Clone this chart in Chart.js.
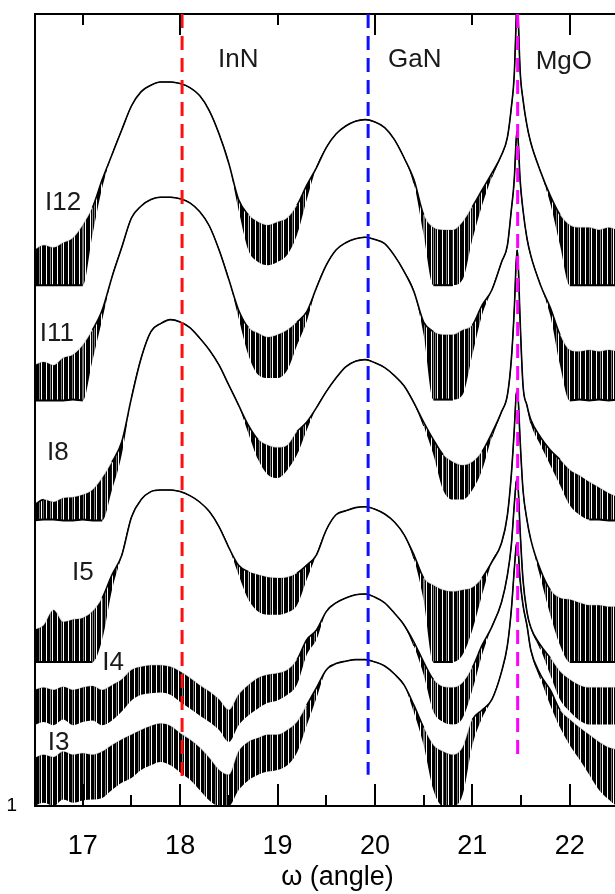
<!DOCTYPE html>
<html>
<head>
<meta charset="utf-8">
<script src="https://cdn.jsdelivr.net/npm/chart.js@4.4.0/dist/chart.umd.min.js"></script>
<style>
html,body{margin:0;padding:0;background:#fff;width:615px;height:894px;overflow:hidden}
canvas{display:block}
</style>
</head>
<body>
<canvas id="c" width="640" height="894"></canvas>
<script>
// ---- data (y values are log10 of intensity; noise = depth of noise band below trace, decades) ----
const angle = [16.5,16.6,16.7,16.8,16.9,17.0,17.1,17.2,17.3,17.4,17.5,17.6,17.7,17.8,17.9,18.0,18.1,18.2,18.3,18.4,18.5,18.6,18.7,18.8,18.9,19.0,19.1,19.2,19.3,19.4,19.5,19.6,19.7,19.8,19.9,20.0,20.1,20.2,20.3,20.4,20.5,20.6,20.7,20.8,20.9,21.0,21.1,21.2,21.3,21.36,21.40,21.43,21.45,21.46,21.47,21.49,21.52,21.56,21.6,21.7,21.8,21.9,22.0,22.1,22.2,22.3,22.4,22.5,22.6,22.7];

const logI12 = [6.95,7.01,6.98,7.04,7.10,7.26,7.48,7.83,8.14,8.45,8.75,8.93,9.01,9.05,9.05,9.03,8.98,8.88,8.69,8.40,8.03,7.58,7.39,7.30,7.26,7.30,7.35,7.51,7.76,7.98,8.23,8.40,8.50,8.56,8.58,8.55,8.48,8.33,8.10,7.83,7.39,7.23,7.20,7.20,7.30,7.49,7.70,7.91,8.14,8.36,8.73,9.14,9.83,10.2,9.89,9.20,8.83,8.51,8.29,7.93,7.63,7.39,7.26,7.23,7.23,7.20,7.23,7.20,7.20,7.20];
const noiseI12 = [0.44,0.50,0.47,0.53,0.59,0.75,0.34,0.10,0,0,0,0,0,0,0,0,0,0,0,0,0,0.13,0.44,0.50,0.50,0.50,0.46,0.37,0.18,0,0,0,0,0,0,0,0,0,0,0.05,0.25,0.72,0.69,0.69,0.72,0.41,0.19,0.05,0,0,0,0,0,0,0,0,0,0,0,0,0.10,0.38,0.75,0.72,0.72,0.69,0.72,0.69,0.69,0.69];

const logI11 = [5.51,5.55,5.51,5.60,5.64,5.76,5.95,6.20,6.61,6.98,7.35,7.50,7.58,7.61,7.61,7.59,7.54,7.43,7.25,6.95,6.58,6.20,5.98,5.91,5.86,5.89,5.95,6.05,6.18,6.48,6.76,6.95,7.04,7.09,7.11,7.08,7.03,6.88,6.68,6.43,6.05,5.93,5.89,5.89,5.95,6.01,6.26,6.45,6.80,7.01,7.45,7.83,8.33,8.44,8.33,7.83,7.45,7.10,6.88,6.51,6.23,5.89,5.70,5.68,5.70,5.68,5.70,5.68,5.70,5.68];
const noiseI11 = [0.44,0.48,0.44,0.53,0.56,0.69,0.38,0.12,0,0,0,0,0,0,0,0,0,0,0,0,0,0.10,0.34,0.52,0.51,0.54,0.50,0.29,0.12,0,0,0,0,0,0,0,0,0,0,0,0.16,0.85,0.81,0.81,0.81,0.37,0.12,0,0,0,0,0,0,0,0,0,0,0,0,0,0.10,0.38,0.63,0.60,0.63,0.60,0.63,0.60,0.63,0.60];

const logI8 = [3.76,3.83,3.80,3.85,3.86,3.89,3.95,4.10,4.30,4.55,5.10,5.60,5.93,6.03,6.08,6.05,5.98,5.85,5.70,5.51,5.26,5.01,4.76,4.58,4.51,4.48,4.51,4.68,4.80,4.98,5.18,5.35,5.49,5.56,5.58,5.54,5.48,5.38,5.25,5.04,4.80,4.58,4.39,4.30,4.26,4.30,4.43,4.66,4.93,5.14,5.58,6.20,6.80,6.95,6.80,6.08,5.26,5.01,4.83,4.61,4.45,4.33,4.20,4.13,4.05,3.98,3.91,3.86,3.83,3.83];
const noiseI8 = [0.19,0.25,0.22,0.28,0.29,0.31,0.38,0.53,0.35,0.16,0,0,0,0,0,0,0,0,0,0,0,0,0.10,0.25,0.37,0.38,0.31,0.29,0.10,0,0,0,0,0,0,0,0,0,0,0,0.05,0.19,0.44,0.47,0.43,0.35,0.23,0.05,0,0,0,0,0,0,0,0,0,0,0.05,0.10,0.19,0.32,0.44,0.49,0.47,0.40,0.34,0.29,0.25,0.25];

const logI5 = [2.20,2.26,2.45,2.30,2.33,2.35,2.43,2.60,2.89,3.13,3.61,3.83,3.93,3.95,3.95,3.93,3.88,3.80,3.68,3.49,3.23,3.01,2.93,2.89,2.86,2.85,2.86,2.91,3.01,3.14,3.45,3.64,3.69,3.73,3.74,3.71,3.65,3.55,3.39,3.14,2.85,2.76,2.70,2.68,2.70,2.73,2.85,3.05,3.29,3.64,4.14,4.70,5.14,5.18,5.10,4.58,3.95,3.58,3.33,2.95,2.70,2.60,2.58,2.54,2.51,2.51,2.49,2.49,2.48,2.48];
const noiseI5 = [0.40,0.46,0.65,0.50,0.53,0.55,0.63,0.52,0.19,0,0,0,0,0,0,0,0,0,0,0,0,0.12,0.35,0.46,0.47,0.46,0.44,0.40,0.18,0,0,0,0,0,0,0,0,0,0,0.05,0.28,0.96,0.90,0.88,0.81,0.53,0.21,0,0,0,0,0,0,0,0,0,0,0,0,0.10,0.31,0.59,0.78,0.74,0.71,0.71,0.69,0.69,0.68,0.68];

const logI4 = [1.45,1.48,1.45,1.49,1.45,1.48,1.50,1.45,1.51,1.58,1.70,1.74,1.76,1.76,1.74,1.68,1.60,1.51,1.43,1.33,1.20,1.39,1.51,1.60,1.64,1.66,1.70,1.83,2.08,2.20,2.43,2.54,2.60,2.64,2.65,2.61,2.54,2.41,2.26,2.05,1.80,1.58,1.49,1.48,1.54,1.73,2.01,2.24,2.55,2.89,3.26,3.76,4.05,4.08,3.98,3.45,2.83,2.43,2.23,2.01,1.85,1.68,1.58,1.51,1.48,1.48,1.48,1.48,1.48,1.48];
const noiseI4 = [0.44,0.43,0.44,0.41,0.44,0.43,0.43,0.44,0.44,0.40,0.38,0.35,0.35,0.34,0.35,0.38,0.38,0.38,0.38,0.38,0.40,0.38,0.38,0.38,0.35,0.34,0.31,0.31,0.19,0.12,0,0,0,0,0,0,0,0,0,0.05,0.16,0.40,0.44,0.46,0.44,0.28,0.12,0,0,0,0,0,0,0,0,0,0,0,0,0.05,0.21,0.35,0.40,0.44,0.46,0.46,0.46,0.46,0.46,0.46];

const logI3 = [0.60,0.64,0.61,0.68,0.64,0.66,0.64,0.68,0.76,0.83,0.89,0.95,1.00,1.03,1.00,0.91,0.83,0.73,0.60,0.45,0.39,0.68,0.80,0.85,0.89,0.89,0.95,1.05,1.26,1.48,1.70,1.78,1.81,1.83,1.83,1.80,1.75,1.65,1.51,1.26,0.98,0.76,0.68,0.64,0.73,1.08,1.20,1.33,1.68,2.01,2.45,2.95,3.25,3.29,3.20,2.83,2.51,2.26,1.95,1.64,1.45,1.20,1.08,0.98,0.89,0.80,0.73,0.70,0.68,0.68];
const noiseI3 = [0.60,0.60,0.61,0.60,0.60,0.59,0.56,0.58,0.56,0.54,0.54,0.50,0.49,0.48,0.49,0.49,0.50,0.53,0.53,0.45,0.39,0.48,0.48,0.46,0.46,0.44,0.44,0.38,0.25,0.13,0,0,0,0,0,0,0,0,0,0.09,0.22,0.56,0.68,0.64,0.59,0.32,0.10,0,0,0,0,0,0,0,0,0,0,0,0,0.05,0.19,0.22,0.32,0.40,0.50,0.60,0.65,0.70,0.68,0.68];

// detector floor of each scan (log10), null where the scan has no flat floor
const floorLog = [6.51, 5.075, 3.575, 1.80, null, 0];

const sampleNames = ['I12','I11','I8','I5','I4','I3'];

// reference peak positions (InN, GaN, MgO)
const peakNames = ['InN','GaN','MgO'];
const peakAngles = [18.02, 19.93, 21.465];
const peakLineBottomLog = [0.33, 0.39, 0.58];

// axis ticks
const tickLabels = [17,18,19,20,21,22];
const minorTicks = [17.5,18.5,19.5,20.5,21.5,22.5];

// ---- presentation ----
const X_MIN = 16.51, X_MAX = 22.721, Y_MAX_LOG = 9.9;
const FONT = '"Liberation Sans", Arial, sans-serif';
const peakColors = ['#ff1010','#1010ff','#ff00ff'];
// label anchors (data coordinates: angle, log10 intensity)
const sampleLabelAt = [[16.613,7.54],[16.56,5.90],[16.633,4.41],[16.89,2.91],[17.20,1.79],[16.64,0.79]];
const peakLabelAt = [[18.389,9.33],[20.134,9.33],[21.65,9.30]];

const series = [
  [logI12, noiseI12],[logI11, noiseI11],[logI8, noiseI8],
  [logI5, noiseI5],[logI4, noiseI4],[logI3, noiseI3]
];

// irregular vertical-stripe pattern used to render dense noise spikes
const stripeCols = ['k','k','w','k','k','k','g','k','w','k','k'];
const pc = document.createElement('canvas'); pc.width = stripeCols.length; pc.height = 1;
const pg = pc.getContext('2d');
stripeCols.forEach((c,i)=>{
  if (c==='k') { pg.fillStyle='#000'; pg.fillRect(i,0,1,1); }
  else if (c==='g') { pg.fillStyle='rgba(0,0,0,0.5)'; pg.fillRect(i,0,1,1); }
});
const stripe = document.getElementById('c').getContext('2d').createPattern(pc,'repeat');

const datasets = [];
peakAngles.forEach((a,i)=>{
  datasets.push({
    data:[{x:a,y:Math.pow(10,Y_MAX_LOG)},{x:a,y:Math.pow(10,peakLineBottomLog[i])}],
    borderColor:peakColors[i], borderWidth:3, borderDash:[14,8], pointRadius:0, fill:false
  });
});
series.forEach(([v,n],k)=>{
  const fl = floorLog[k];
  datasets.push({
    data: angle.map((a,i)=>({x:a,y:Math.pow(10,v[i])})),
    borderColor:'#000', borderWidth:1.6, pointRadius:0, borderJoinStyle:'round',
    cubicInterpolationMode:'monotone', fill:'+1', backgroundColor:stripe,
    segment:{
      borderColor:(c)=> (n[c.p0DataIndex]>0.2 && n[c.p1DataIndex]>0.2) ? 'rgba(0,0,0,0.15)' : '#000'
    }
  });
  datasets.push({
    data: angle.map((a,i)=>({x:a,y:Math.pow(10,v[i]-n[i])})),
    borderColor:'#000', borderWidth:1, pointRadius:0, borderJoinStyle:'round',
    cubicInterpolationMode:'monotone', fill:false,
    segment:{
      borderColor:(c)=>{
        const i0=c.p0DataIndex, i1=c.p1DataIndex;
        const onFloor = fl!==null && Math.abs(v[i0]-n[i0]-fl)<0.03 && Math.abs(v[i1]-n[i1]-fl)<0.03;
        if (onFloor) return '#000';
        return (n[i0]>0.08 || n[i1]>0.08) ? 'rgba(0,0,0,0)' : '#000';
      },
      borderWidth:(c)=>{
        const i0=c.p0DataIndex, i1=c.p1DataIndex;
        const onFloor = fl!==null && Math.abs(v[i0]-n[i0]-fl)<0.03 && Math.abs(v[i1]-n[i1]-fl)<0.03;
        return onFloor ? 2 : 1;
      }
    }
  });
});

const innerTicks = {
  id:'innerTicks',
  afterDraw(chart){
    const {ctx, chartArea:{top,bottom}, scales:{x}} = chart;
    ctx.save();
    ctx.strokeStyle='#000'; ctx.lineWidth=2;
    const line=(px,y0,y1)=>{ctx.beginPath();ctx.moveTo(px,y0);ctx.lineTo(px,y1);ctx.stroke();};
    tickLabels.forEach(t=>{const px=Math.round(x.getPixelForValue(t)); line(px,bottom,bottom-22); line(px,top,top+(t%2===0?21:11));});
    minorTicks.forEach(t=>{const px=Math.round(x.getPixelForValue(t)); line(px,bottom,bottom-11);});
    ctx.restore();
  }
};

const labels = {
  id:'labels',
  afterDatasetsDraw(chart){
    const {ctx, scales:{x,y}} = chart;
    ctx.save();
    ctx.fillStyle='#1a1a1a';
    ctx.font='26px '+FONT;
    ctx.textAlign='left'; ctx.textBaseline='middle';
    sampleNames.forEach((nm,i)=>{
      ctx.fillText(nm, x.getPixelForValue(sampleLabelAt[i][0]), y.getPixelForValue(Math.pow(10,sampleLabelAt[i][1])));
    });
    peakNames.forEach((nm,i)=>{
      ctx.fillText(nm, x.getPixelForValue(peakLabelAt[i][0]), y.getPixelForValue(Math.pow(10,peakLabelAt[i][1])));
    });
    ctx.restore();
  }
};

new Chart(document.getElementById('c'),{
  type:'line',
  data:{datasets},
  options:{
    responsive:false, animation:false, devicePixelRatio:1,
    layout:{padding:0},
    plugins:{legend:{display:false}, tooltip:{enabled:false}},
    scales:{
      x:{
        type:'linear', position:'bottom', min:X_MIN, max:X_MAX,
        afterBuildTicks(s){ s.ticks = tickLabels.map(v=>({value:v})); },
        afterFit(s){ s.height = 88; s.paddingLeft = 0; s.paddingRight = 0; },
        grid:{display:false, drawTicks:false},
        border:{display:true, width:2, color:'#000'},
        ticks:{color:'#000', padding:24, maxRotation:0, autoSkip:false, font:{family:FONT,size:27}, callback:(v)=>String(v)},
        title:{display:true, text:'ω (angle)', color:'#000', padding:{top:0,bottom:0}, font:{family:FONT,size:27}}
      },
      xTop:{
        type:'linear', position:'top', min:X_MIN, max:X_MAX,
        afterFit(s){ s.height = 14; s.paddingLeft = 0; s.paddingRight = 0; },
        grid:{display:false, drawTicks:false},
        border:{display:true, width:2, color:'#000'},
        ticks:{display:false}
      },
      y:{
        type:'logarithmic', position:'left', min:1, max:Math.pow(10,Y_MAX_LOG),
        afterBuildTicks(s){ s.ticks = [{value:1}]; },
        afterFit(s){ s.width = 35; s.paddingTop = 0; s.paddingBottom = 0; },
        grid:{display:false, drawTicks:false},
        border:{display:true, width:2, color:'#000'},
        ticks:{color:'#000', padding:18, autoSkip:false, font:{family:FONT,size:19}, callback:(v)=>String(v)}
      }
    }
  },
  plugins:[innerTicks, labels]
});
</script>
</body>
</html>
